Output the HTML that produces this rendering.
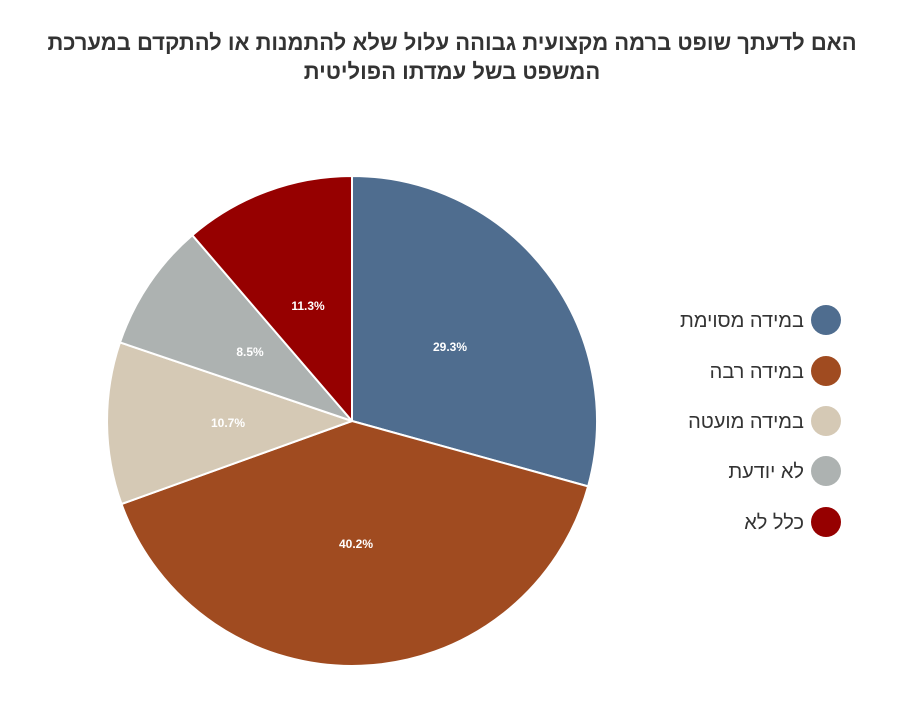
<!DOCTYPE html>
<html><head><meta charset="utf-8"><style>
body{margin:0;background:#fff;width:900px;height:700px;overflow:hidden}
</style></head><body>
<svg width="900" height="700" xmlns="http://www.w3.org/2000/svg">
<text x="452" y="50" text-anchor="middle" font-family="Liberation Sans, DejaVu Sans, sans-serif" font-weight="bold" font-size="22" fill="#333" direction="rtl">האם לדעתך שופט ברמה מקצועית גבוהה עלול שלא להתמנות או להתקדם במערכת</text>
<text x="452" y="79" text-anchor="middle" font-family="Liberation Sans, DejaVu Sans, sans-serif" font-weight="bold" font-size="22" fill="#333" direction="rtl">המשפט בשל עמדתו הפוליטית</text>
<g stroke="#fff" stroke-width="2" stroke-linejoin="round">
<path d="M352,421 L352,176 A245,245 0 0 1 588.1,486.4 Z" fill="#4f6d8f"/>
<path d="M352,421 L588.1,486.4 A245,245 0 0 1 121.5,504 Z" fill="#a04b20"/>
<path d="M352,421 L121.5,504 A245,245 0 0 1 120,342.4 Z" fill="#d5c9b5"/>
<path d="M352,421 L120,342.4 A245,245 0 0 1 192.3,235.2 Z" fill="#adb2b1"/>
<path d="M352,421 L192.3,235.2 A245,245 0 0 1 352,176 Z" fill="#960000"/>
</g>
<g font-family="Liberation Sans, sans-serif" font-weight="bold" font-size="12" fill="#fff" text-anchor="middle">
<text x="450" y="351">29.3%</text>
<text x="356" y="548">40.2%</text>
<text x="228" y="427">10.7%</text>
<text x="250" y="356">8.5%</text>
<text x="308" y="310">11.3%</text>
</g>
<g font-family="Liberation Sans, DejaVu Sans, sans-serif" font-size="20" fill="#333" text-anchor="end">
<circle cx="826" cy="320" r="15" fill="#4f6d8f"/><text x="804" y="327" direction="rtl" text-anchor="start">במידה מסוימת</text>
<circle cx="826" cy="371" r="15" fill="#a04b20"/><text x="804" y="378" direction="rtl" text-anchor="start">במידה רבה</text>
<circle cx="826" cy="421" r="15" fill="#d5c9b5"/><text x="804" y="428" direction="rtl" text-anchor="start">במידה מועטה</text>
<circle cx="826" cy="471" r="15" fill="#adb2b1"/><text x="804" y="478" direction="rtl" text-anchor="start">לא יודעת</text>
<circle cx="826" cy="522" r="15" fill="#960000"/><text x="804" y="529" direction="rtl" text-anchor="start">כלל לא</text>
</g>
</svg>
</body></html>
